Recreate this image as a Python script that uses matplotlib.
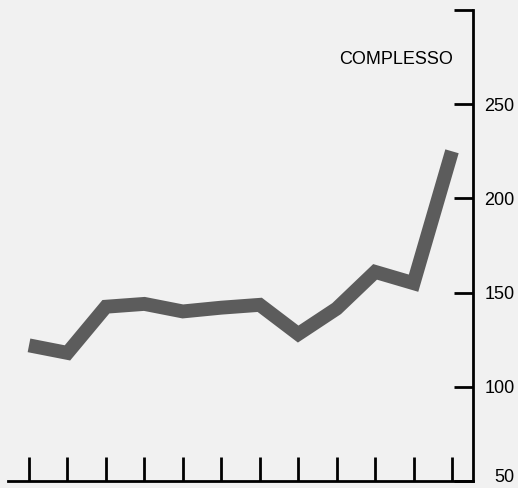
import matplotlib.pyplot as plt
from matplotlib.transforms import ScaledTranslation

# values (index 0..11 = the x ticks)
periods = list(range(12))
complesso = [122, 118, 142.5, 144, 140, 142, 143.5, 128, 141.5, 161, 155, 225]
y_ticks = [50, 100, 150, 200, 250, 300]
y_labels = ["50", "100", "150", "200", "250", ""]

plt.rcParams['font.family'] = ['Liberation Sans', 'DejaVu Sans']

fig = plt.figure(figsize=(5.18, 4.88), dpi=100)
fig.patch.set_facecolor('#f1f1f1')
ax = fig.add_axes([8 / 518, 7 / 488, 465 / 518, 471 / 488])
ax.set_facecolor('#f1f1f1')

ax.plot(periods, complesso, color='#5c5c5c', linewidth=10,
        solid_joinstyle='miter', solid_capstyle='butt')

ax.set_xlim(-0.546, 11.546)
ax.set_ylim(50, 300)

# only bottom and right axis lines
for side in ('left', 'top'):
    ax.spines[side].set_visible(False)
for side in ('bottom', 'right'):
    ax.spines[side].set_linewidth(2)
    ax.spines[side].set_color('black')

ax.set_xticks(periods)
ax.set_xticklabels([])
ax.tick_params(axis='x', direction='in', length=17, width=2, color='black')

ax.yaxis.tick_right()
ax.set_yticks(y_ticks)
ax.set_yticklabels(y_labels)
ax.tick_params(axis='y', direction='in', length=14, width=2, color='black',
               pad=30, labelsize=13)
for lab in ax.get_yticklabels():
    lab.set_horizontalalignment('right')
# bottom label sits right on the edge; nudge it up so it stays inside
ax.get_yticklabels()[0].set_transform(
    ax.get_yticklabels()[0].get_transform()
    + ScaledTranslation(0, 4 / 72, fig.dpi_scale_trans))

ax.text(0.835, 0.895, "COMPLESSO", transform=ax.transAxes, ha='center',
        va='center', fontsize=13)

fig.savefig("out.png", dpi=100, facecolor=fig.get_facecolor())
